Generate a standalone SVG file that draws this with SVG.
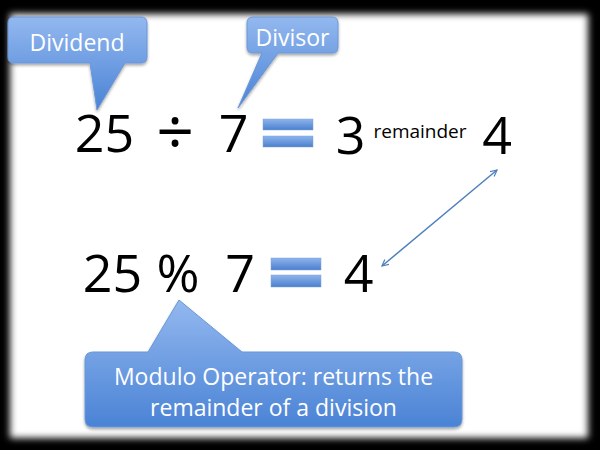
<svg xmlns="http://www.w3.org/2000/svg" width="600" height="450" viewBox="0 0 600 450">
  <defs>
    <filter id="blur" x="-5%" y="-5%" width="110%" height="110%">
      <feGaussianBlur stdDeviation="3.5"/>
    </filter>
    <filter id="shadow" x="-10%" y="-10%" width="120%" height="130%">
      <feGaussianBlur in="SourceAlpha" stdDeviation="1.5"/>
      <feOffset dx="0" dy="2" result="b"/>
      <feComponentTransfer><feFuncA type="linear" slope="0.35"/></feComponentTransfer>
      <feMerge><feMergeNode/><feMergeNode in="SourceGraphic"/></feMerge>
    </filter>
    <linearGradient id="blue" x1="0" y1="0" x2="0" y2="1">
      <stop offset="0" stop-color="#93b8ef"/>
      <stop offset="1" stop-color="#4a83d5"/>
    </linearGradient>
    <linearGradient id="bar" x1="0" y1="0" x2="0" y2="1">
      <stop offset="0" stop-color="#8fb4ec"/>
      <stop offset="1" stop-color="#4a80cf"/>
    </linearGradient>
    <marker id="ah" viewBox="0 0 10 10" refX="9" refY="5" markerWidth="8" markerHeight="8" orient="auto-start-reverse" markerUnits="userSpaceOnUse">
      <path d="M1,1 L9,5 L1,9" fill="none" stroke="#4f81bd" stroke-width="1.5"/>
    </marker>
    <style>
      .call { fill: url(#blue); stroke: #6a96d8; stroke-width: 1; filter: url(#shadow); }
      .ct { font-family: "Open Sans", "Noto Sans", sans-serif; fill: #ffffff; text-anchor: middle; }
      .big { font-family: "Open Sans", "Noto Sans", sans-serif; font-size: 52px; fill: #000000; text-anchor: middle; }
      .bar { fill: url(#bar); stroke: #7fa3d8; stroke-width: 0.5; }
    </style>
  </defs>

  <rect x="0" y="0" width="600" height="450" fill="#000000"/>
  <rect x="10" y="14" width="578" height="424" fill="#ffffff" filter="url(#blur)"/>

  <g id="equation1">
    <text class="big" x="104.5" y="152">25</text>
    <text class="big" x="175" y="155" style="font-size:66px">÷</text>
    <text class="big" x="233.5" y="152">7</text>
    <rect class="bar" x="263" y="119" width="50" height="11"/>
    <rect class="bar" x="263" y="136" width="50" height="11"/>
    <text class="big" x="350.5" y="154">3</text>
    <text x="420" y="138" font-family="'Open Sans', 'Noto Sans', sans-serif" font-size="19" fill="#000000" text-anchor="middle">remainder</text>
    <text class="big" x="497" y="154">4</text>
  </g>

  <g id="equation2">
    <text class="big" x="112.5" y="292">25</text>
    <text class="big" x="178" y="292">%</text>
    <text class="big" x="240" y="292">7</text>
    <rect class="bar" x="271" y="258" width="50" height="12"/>
    <rect class="bar" x="271" y="275" width="50" height="12"/>
    <text class="big" x="358.5" y="292">4</text>
  </g>

  <g id="connectors">
    <line x1="382" y1="266" x2="497" y2="170" stroke="#4f81bd" stroke-width="1.5" marker-start="url(#ah)" marker-end="url(#ah)"/>
  </g>

  <g id="dividend">
    <path class="call" d="M14,17 H141 Q147,17 147,23 V57 Q147,63 141,63 H125 L97,110 L90,63 H14 Q8,63 8,57 V23 Q8,17 14,17 Z"/>
    <text class="ct" x="77" y="51" font-size="23">Dividend</text>
  </g>

  <g id="divisor">
    <path class="call" d="M253,17 H332 Q338,17 338,23 V47 Q338,53 332,53 H278 L238,108 L262,53 H253 Q247,53 247,47 V23 Q247,17 253,17 Z"/>
    <text class="ct" x="292.5" y="46" font-size="23">Divisor</text>
  </g>

  <g id="modulo">
    <path class="call" d="M93,352 H148 L179,300 L242,352 H454 Q462,352 462,360 V419 Q462,427 454,427 H93 Q85,427 85,419 V360 Q85,352 93,352 Z"/>
    <text class="ct" x="273.5" y="385" font-size="23">Modulo Operator: returns the</text>
    <text class="ct" x="273.5" y="416" font-size="23">remainder of a division</text>
  </g>
</svg>
